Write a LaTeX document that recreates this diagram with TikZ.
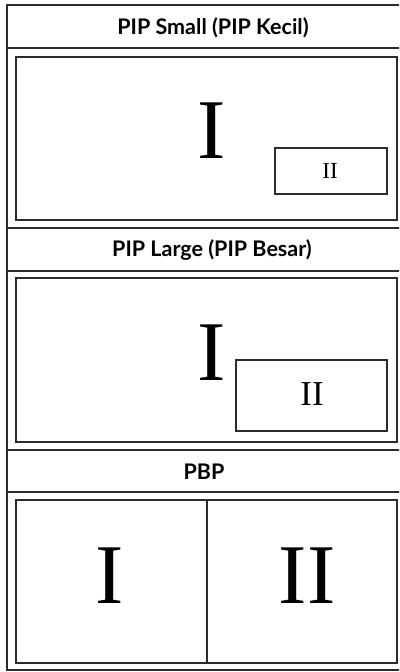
\documentclass[tikz,border=0pt]{standalone}
\usepackage{fontspec}
\newfontfamily\labelfont{Lato}
\newfontfamily\numfont{Liberation Serif}
\definecolor{framegray}{HTML}{2B2B2B}
\tikzset{
  frame/.style={draw=framegray, line width=1.6pt},
  pane/.style={draw=framegray, line width=1.2pt},
  header/.style={font=\labelfont\bfseries\fontsize{21.5}{24}\selectfont},
  numeral/.style={font=\numfont\fontsize{#1}{#1}\selectfont, inner sep=0pt}
}
\begin{document}
\begin{tikzpicture}[x=1pt, y=-1pt]
    \clip (0,0) rectangle (399,672);
    % outer frame and section rules
    \draw[frame] (7,5) rectangle (412,670);
    \draw[frame] (7,48) -- (412,48);
    \draw[frame] (7,228) -- (412,228);
    \draw[frame] (7,271) -- (412,271);
    \draw[frame] (7,450) -- (412,450);
    \draw[frame] (7,492) -- (412,492);
    \node[header] (small) at (213,28) {PIP Small (PIP Kecil)};
    \node[header] (large) at (212,250) {PIP Large (PIP Besar)};
    \node[header] (pbp) at (204,472) {PBP};
    % PIP small
    \draw[pane] (16,57) rectangle (397,220);
    \node[numeral=85] (smallmain) at (212,131) {I};
    \draw[pane] (275,148) rectangle (387,194);
    \node[numeral=23] (smallsub) at (330,171) {II};
    % PIP large
    \draw[pane] (16,278) rectangle (397,442);
    \node[numeral=85] (largemain) at (212,353) {I};
    \draw[pane, line width=1.5pt] (236,360) rectangle (387,431);
    \node[numeral=35] (largesub) at (312,394) {II};
    % PBP
    \draw[pane] (16,500) rectangle (397,663);
    \draw[pane] (207,500) -- (207,663);
    \node[numeral=85] (pbpleft) at (110,576) {I};
    \node[numeral=85] (pbpright) at (307,576) {II};
\end{tikzpicture}
\end{document}
